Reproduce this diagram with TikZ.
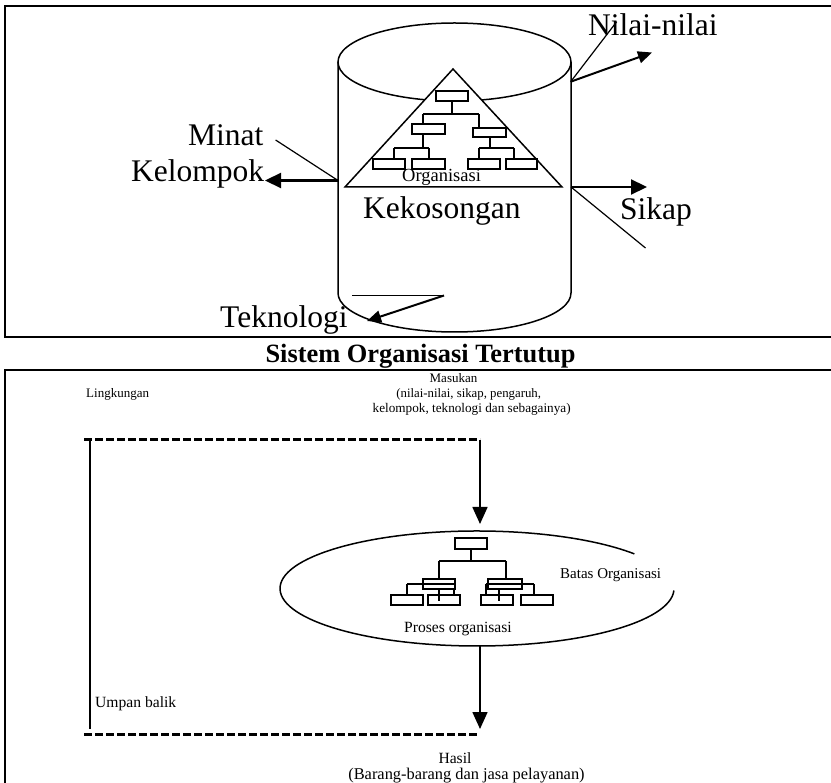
\documentclass[tikz,border=0pt]{standalone}
\usepackage{fontspec}
\setmainfont{Liberation Serif}
\usetikzlibrary{arrows.meta}
\begin{document}
\begin{tikzpicture}[x=1pt,y=-1pt,
  lbl/.style={inner sep=0pt, anchor=base west},
  big/.style={lbl, font=\fontsize{31.5}{36}\selectfont},
  smc/.style={inner sep=0pt, anchor=base},
  frame/.style={line width=2pt},
  outl/.style={line width=1.5pt},
  thinln/.style={line width=1.2pt},
  arr/.style={line width=2.2pt, -{Triangle[length=16pt,width=15pt]}},
  arrs/.style={line width=2pt, -{Triangle[length=14pt,width=12pt]}},
  vArr/.style={line width=1.6pt, -{Triangle[length=17pt,width=15pt]}},
  orgbox/.style={draw, line width=1.6pt, fill=white},
  orgln/.style={line width=1.6pt},
  dashln/.style={line width=3pt, dash pattern=on 8pt off 3pt}
]
\useasboundingbox (0,0) rectangle (831,783);
\clip (0,0) rectangle (831,783);

% ---------------- top panel ----------------
\draw[frame] (5,6) rectangle (845,337);

% cylinder
\draw[outl] (454.5,62) ellipse [x radius=116.5, y radius=39];
\draw[outl] (338,62) -- (338,293) arc[start angle=180, end angle=0, x radius=116.5, y radius=39] -- (571,62);

% triangle with org chart
\draw[outl, fill=white] (453,69) -- (562,187) -- (345,187) -- cycle;
\draw[orgln] (452,101) -- (452,114) (423,114) -- (479,114)
  (423,114) -- (423,124) (479,114) -- (479,128)
  (423,134) -- (423,148) (394,148) -- (429,148)
  (394,148) -- (394,159) (429,148) -- (429,159)
  (490,137) -- (490,148) (479,148) -- (514,148)
  (479,148) -- (479,159) (514,148) -- (514,159);
\draw[orgbox] (436,91) rectangle (468,101);
\draw[orgbox] (412,124) rectangle (445,134);
\draw[orgbox] (473,128) rectangle (506,137);
\draw[orgbox] (373,159) rectangle (405,169);
\draw[orgbox] (412,159) rectangle (445,169);
\draw[orgbox] (468,159) rectangle (500,169);
\draw[orgbox] (506,159) rectangle (537,169);
\node[lbl, font=\fontsize{18.5}{22}\selectfont] (org) at (402,182) {Organisasi};

\node[big] (kek) at (363,219) {Kekosongan};
\node[big] (minat) at (188,146) {Minat};
\node[big] (kel) at (131,182) {Kelompok};
\node[big] (nilai) at (588,36) {Nilai-nilai};
\node[big] (sikap) at (620,220) {Sikap};
\node[big] (tek) at (220,328) {Teknologi};

\coordinate (minA) at (275.6,140);
\coordinate (cylL) at (338,180.5);
\coordinate (kelTip) at (265,180.5);
\coordinate (cylR) at (571,187);
\coordinate (sikTip) at (647,187);
\coordinate (sikEnd) at (645.5,248);
\coordinate (cylRT) at (570.7,81.7);
\coordinate (nilEnd) at (616.7,21.7);
\coordinate (nilTip) at (652,52.5);
\coordinate (tekA) at (352,295.5);
\coordinate (tekB) at (444,295.5);
\coordinate (tekTip) at (367,321);

\draw[thinln] (minA) -- (cylL);
\draw[arr] (cylL) -- (kelTip);
\draw[arr] (cylR) -- (sikTip);
\draw[thinln] (cylR) -- (sikEnd);
\draw[thinln] (cylRT) -- (nilEnd);
\draw[arrs] (cylRT) -- (nilTip);
\draw[thinln] (tekA) -- (tekB);
\draw[arrs] (tekB) -- (tekTip);

% title
\node[smc, font=\bfseries\fontsize{26.4}{30}\selectfont] (title) at (420.5,363) {Sistem Organisasi Tertutup};

% ---------------- bottom panel ----------------
\draw[frame] (5,370) rectangle (845,800);

\node[lbl, font=\fontsize{13}{15}\selectfont] (ling) at (86,398) {Lingkungan};
\node[smc, font=\fontsize{13}{15}\selectfont] (mas1) at (453.5,383) {Masukan};
\node[smc, font=\fontsize{12.8}{15}\selectfont] (mas2) at (468.7,397.5) {(nilai-nilai, sikap, pengaruh,};
\node[smc, font=\fontsize{13.2}{15}\selectfont] (mas3) at (471.7,413) {kelompok, teknologi dan sebagainya)};

\coordinate (dTL) at (84,440);
\coordinate (dTR) at (480,440);
\coordinate (inTip) at (480,524);
\coordinate (vTop) at (90,440);
\coordinate (vBot) at (90,729);
\coordinate (dBL) at (84,734);
\coordinate (dBR) at (477,734);
\coordinate (ellB) at (480,646);
\coordinate (outTip) at (480,729);

\draw[dashln] (dTL) -- (dTR);
\draw[vArr] (dTR) -- (inTip);
\draw[thinln] (vTop) -- (vBot);
\draw[dashln] (dBL) -- (dBR);
\draw[vArr] (ellB) -- (outTip);

% organisation boundary (open ellipse)
\draw[outl] (673.9,590.5) arc[start angle=2, end angle=323, x radius=197, y radius=57.5];

% org chart inside
\draw[orgln] (471,549) -- (471,561) (439,561) -- (506,561)
  (439,561) -- (439,579) (506,561) -- (506,579)
  (407,584) -- (423,584) (407,584) -- (407,595)
  (454,584) -- (454,595) (439,589) -- (439,601)
  (486,584) -- (488,584) (486,584) -- (486,595)
  (522,584) -- (534,584) (534,584) -- (534,595)
  (499,589) -- (499,601);
\draw[orgbox] (455,538) rectangle (487,549);
\draw[orgbox] (423,579) rectangle (455,589);
\draw[orgln] (423,584) -- (455,584);
\draw[orgbox] (488,579) rectangle (522,589);
\draw[orgln] (488,584) -- (522,584);
\draw[orgbox, fill=none] (391,595) rectangle (423,605);
\draw[orgbox, fill=none] (428,595) rectangle (460,605);
\draw[orgbox, fill=none] (481,595) rectangle (513,605);
\draw[orgbox, fill=none] (521,595) rectangle (553,605);

\node[lbl, font=\fontsize{15}{18}\selectfont] (batas) at (560,579) {Batas Organisasi};
\node[lbl, font=\fontsize{15.6}{18}\selectfont] (proses) at (404,633) {Proses organisasi};
\node[lbl, font=\fontsize{15.6}{18}\selectfont] (umpan) at (95,707) {Umpan balik};
\node[smc, font=\fontsize{15.6}{18}\selectfont] (hasil) at (455,763) {Hasil};
\node[smc, font=\fontsize{16.4}{18}\selectfont] (barang) at (466.5,779) {(Barang-barang dan jasa pelayanan)};
\end{tikzpicture}
\end{document}
